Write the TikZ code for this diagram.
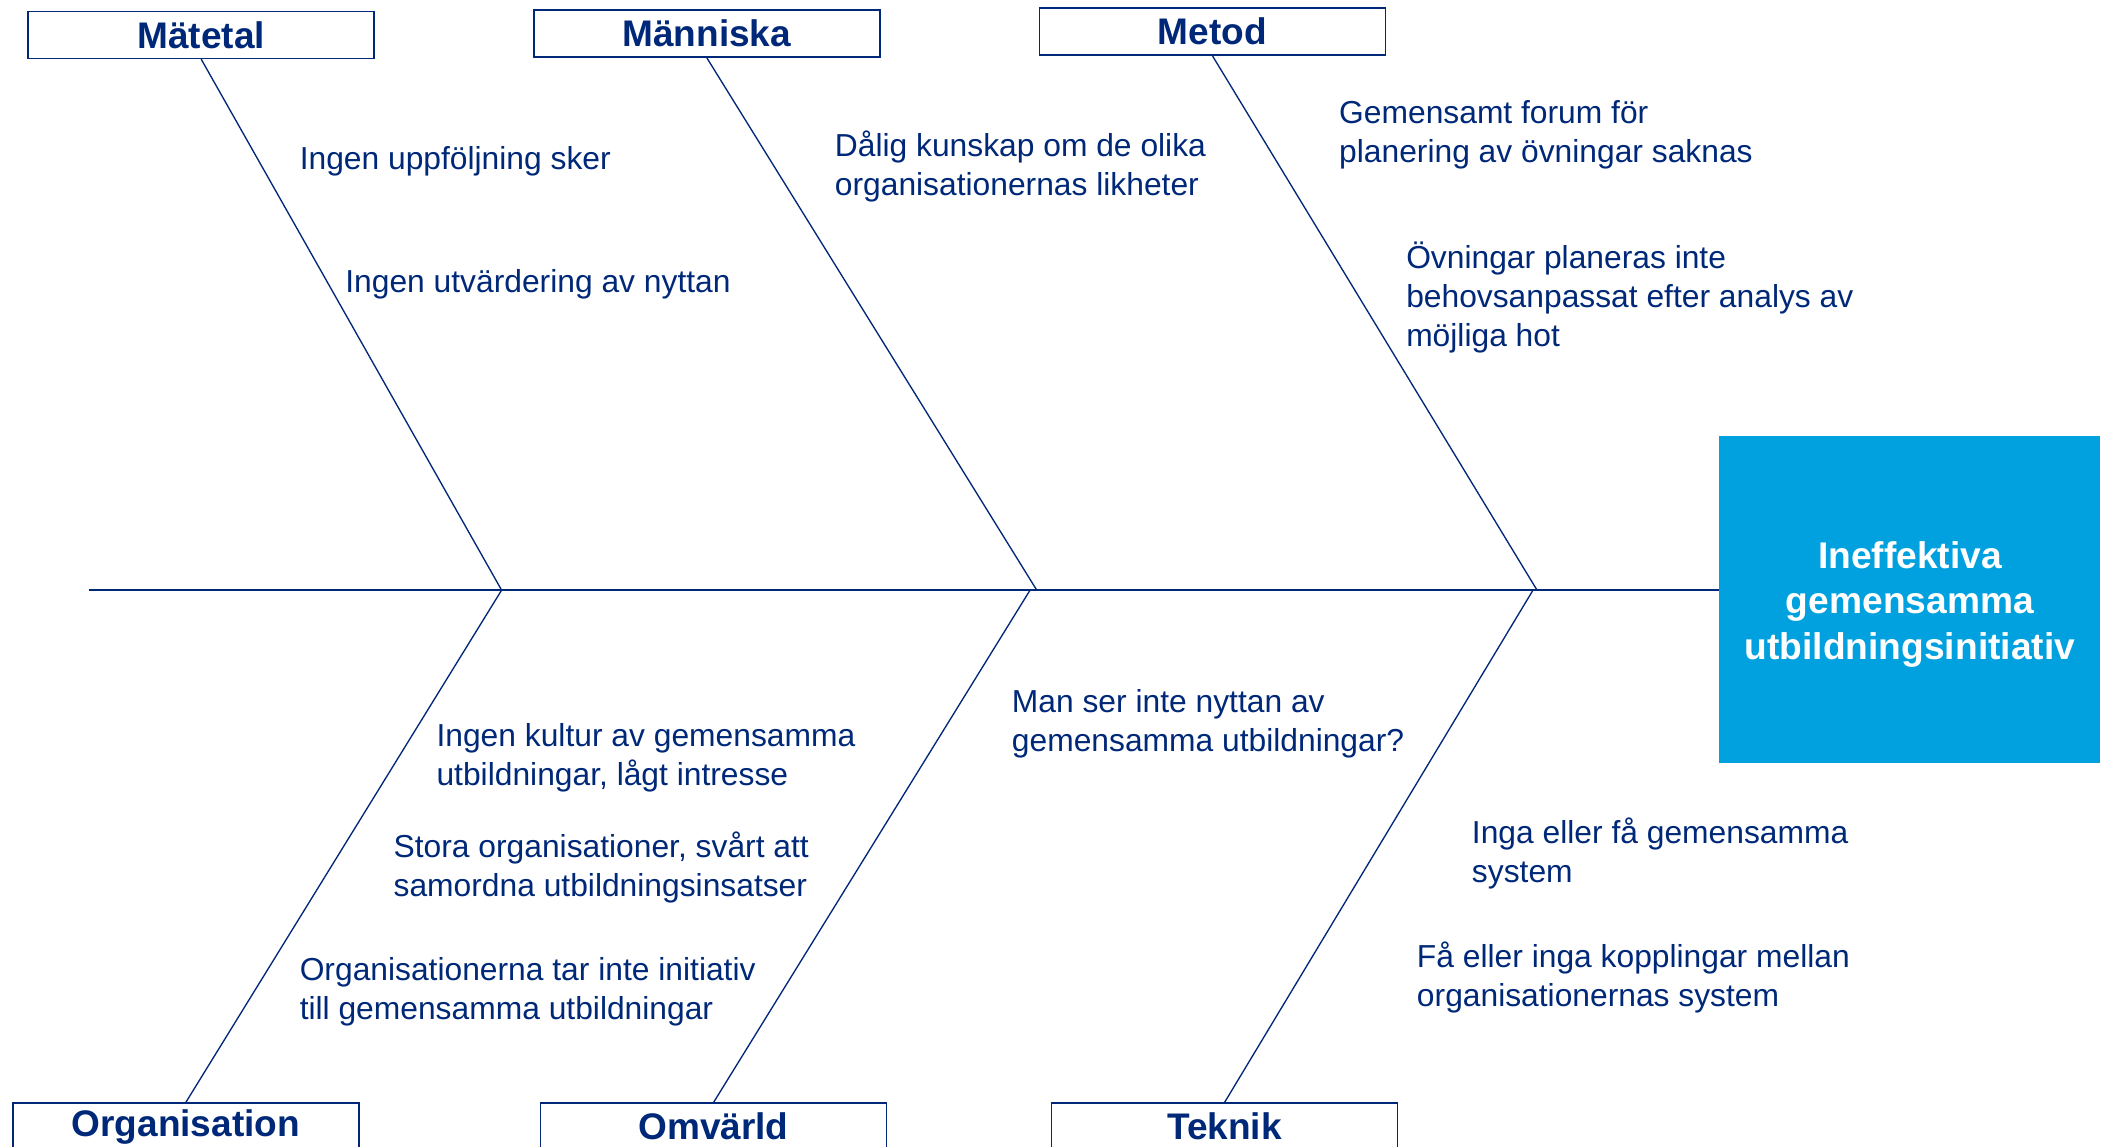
\documentclass[tikz,border=0pt]{standalone}
\usepackage{fontspec}
\setmainfont{Liberation Sans}
\usetikzlibrary{positioning}
\definecolor{navy}{RGB}{0,40,120}
\definecolor{skyblue}{RGB}{0,161,222}

\begin{document}
\begin{tikzpicture}[x=1pt, y=-1pt, line width=1pt, draw=navy,
    catbox/.style={draw=navy, line width=1.2pt, minimum width=258pt, minimum height=35pt,
      inner sep=0pt, text=navy, font=\fontsize{27.6}{32}\selectfont\bfseries},
    cause/.style={anchor=west, align=left, inner sep=0pt, text=navy,
      font=\fontsize{23.7}{29}\selectfont},
    effectbox/.style={fill=skyblue, minimum width=284pt, minimum height=244pt, inner sep=0pt},
    efftext/.style={align=center, inner sep=0pt, text=white,
      font=\fontsize{27.7}{34}\selectfont\bfseries}]
  \useasboundingbox (0,0) rectangle (1568,855);

  % effect
  \node[effectbox] (eff) at (1424,447) {};
  \node[efftext] (efftxt) at ([yshift=-3.5pt]eff.center) {Ineffektiva\\gemensamma\\utbildningsinitiativ};

  % category boxes
  \node[catbox] (mat) at (150,26) {Mätetal};
  \node[catbox] (man) at (527,25) {Människa};
  \node[catbox] (meto) at (904,23.5) {Metod};
  \node[catbox, anchor=north] (org) at (138.5,822) {Organisation};
  \node[catbox, anchor=north] (omv) at (532,822) {Omvärld};
  \node[catbox, anchor=north] (tek) at (913,822) {Teknik};

  % spine
  \coordinate (tail) at (66,440);
  \coordinate (j1) at (374,440);
  \coordinate (j2) at (773,440);
  \coordinate (j2b) at (768,440);
  \coordinate (j3) at (1146,440);
  \coordinate (j3b) at (1143,440);
  \draw (tail) -- (tail -| eff.west);

  % bones
  \draw (mat.south) -- (j1);
  \draw (man.south) -- (j2);
  \draw (meto.south) -- (j3);
  \draw (org.north) -- (j1);
  \draw (omv.north) -- (j2b);
  \draw (tek.north) -- (j3b);

  % causes
  \node[cause] (c1) at (223,120) {Ingen uppföljning sker};
  \node[cause] (c2) at (257,212) {Ingen utvärdering av nyttan};
  \node[cause] (c3) at (622,124) {Dålig kunskap om de olika\\organisationernas likheter};
  \node[cause] (c4) at (998,100.5) {Gemensamt forum för\\planering av övningar saknas};
  \node[cause] (c5) at (1048,222) {Övningar planeras inte\\behovsanpassat efter analys av\\möjliga hot};
  \node[cause] (c6) at (325,565) {Ingen kultur av gemensamma\\utbildningar, lågt intresse};
  \node[cause] (c7) at (293,646.5) {Stora organisationer, svårt att\\samordna utbildningsinsatser};
  \node[cause] (c8) at (223,739.5) {Organisationerna tar inte initiativ\\till gemensamma utbildningar};
  \node[cause] (c9) at (754,539.5) {Man ser inte nyttan av\\gemensamma utbildningar?};
  \node[cause] (c10) at (1097,636.5) {Inga eller få gemensamma\\system};
  \node[cause] (c11) at (1056,728.5) {Få eller inga kopplingar mellan\\organisationernas system};
\end{tikzpicture}
\end{document}
